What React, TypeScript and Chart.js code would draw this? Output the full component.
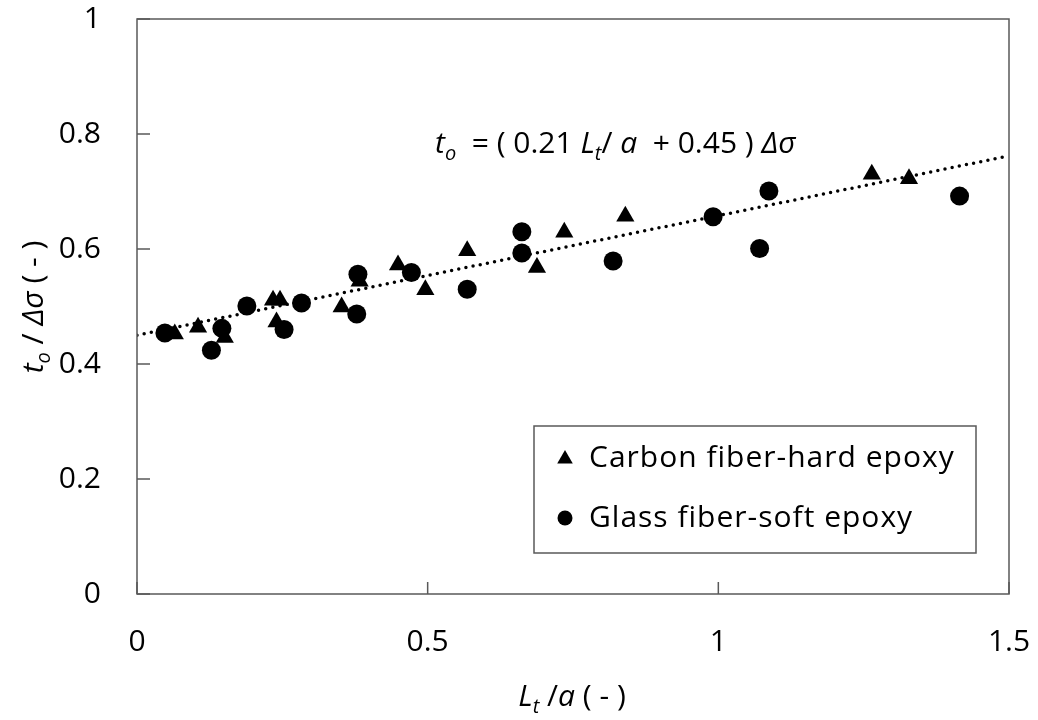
import React, { useEffect, useRef } from "react";
import { Chart, registerables } from "chart.js";

Chart.register(...registerables);

// ---- data ----
const carbonX = [0.065, 0.105, 0.151, 0.234, 0.246, 0.24, 0.352, 0.383, 0.449, 0.496, 0.568, 0.688, 0.735, 0.84, 1.264, 1.328];
const carbonY = [0.452, 0.464, 0.446, 0.511, 0.511, 0.473, 0.499, 0.544, 0.572, 0.529, 0.597, 0.568, 0.629, 0.657, 0.73, 0.722];

const glassX = [0.048, 0.128, 0.146, 0.189, 0.253, 0.283, 0.378, 0.38, 0.472, 0.568, 0.662, 0.662, 0.819, 0.991, 1.071, 1.087, 1.415];
const glassY = [0.454, 0.424, 0.462, 0.501, 0.46, 0.506, 0.487, 0.556, 0.559, 0.53, 0.63, 0.593, 0.579, 0.656, 0.601, 0.701, 0.692];

const fitX = [0, 1.5];
const fitY = [0.45, 0.762];

const xTicks = [0, 0.5, 1, 1.5];
const xTickLabels = ["0", "0.5", "1", "1.5"];
const yTicks = [0, 0.2, 0.4, 0.6, 0.8, 1];
const yTickLabels = ["0", "0.2", "0.4", "0.6", "0.8", "1"];

// zero-width non-joiner keeps "f" and "i" as separate glyphs, as in the reference
const seriesNames = ["Carbon f\u200Ciber-hard epoxy", "Glass f\u200Ciber-soft epoxy"];

const FONT = "'Open Sans', sans-serif";
const FS = 30;

type Part = { t: string; it?: boolean; sub?: boolean };

function partFont(p: Part, size: number) {
  const s = p.sub ? Math.round(size * 0.66) : size;
  return `${p.it ? "italic " : ""}${s}px ${FONT}`;
}
function richWidth(ctx: CanvasRenderingContext2D, parts: Part[], size: number) {
  let w = 0;
  for (const p of parts) {
    ctx.font = partFont(p, size);
    w += ctx.measureText(p.t).width;
  }
  return w;
}
function drawRich(ctx: CanvasRenderingContext2D, parts: Part[], x: number, y: number, size: number) {
  let cx = x;
  for (const p of parts) {
    ctx.font = partFont(p, size);
    ctx.fillText(p.t, cx, y + (p.sub ? size * 0.24 : 0));
    cx += ctx.measureText(p.t).width;
  }
}

const eqParts: Part[] = [
  { t: "t", it: true },
  { t: "o", it: true, sub: true },
  { t: "  = ( 0.21 " },
  { t: "L", it: true },
  { t: "t", it: true, sub: true },
  { t: "/ " },
  { t: "a", it: true },
  { t: "  + 0.45 ) " },
  { t: "Δσ", it: true },
];
const xTitleParts: Part[] = [
  { t: "L", it: true },
  { t: "t", it: true, sub: true },
  { t: " /" },
  { t: "a", it: true },
  { t: " ( - )" },
];
const yTitleParts: Part[] = [
  { t: "t", it: true },
  { t: "o", it: true, sub: true },
  { t: " / " },
  { t: "Δσ", it: true },
  { t: " ( - )" },
];

const decor = {
  id: "decor",
  afterDraw(chart: any) {
    const { ctx, chartArea: a, scales } = chart;
    const xs = scales.x;
    const ys = scales.y;
    ctx.save();
    // frame
    ctx.strokeStyle = "#595959";
    ctx.lineWidth = 1.5;
    ctx.strokeRect(a.left, a.top, a.right - a.left, a.bottom - a.top);
    // inward tick marks
    ctx.beginPath();
    yTicks.forEach((v) => {
      const py = ys.getPixelForValue(v);
      ctx.moveTo(a.left, py);
      ctx.lineTo(a.left + 13, py);
    });
    xTicks.forEach((v) => {
      const px = xs.getPixelForValue(v);
      ctx.moveTo(px, a.bottom);
      ctx.lineTo(px, a.bottom - 12);
    });
    ctx.stroke();

    ctx.fillStyle = "#000";
    ctx.textBaseline = "alphabetic";
    ctx.textAlign = "left";

    // equation
    drawRich(ctx, eqParts, 435, 153, FS);

    // x title
    const xw = richWidth(ctx, xTitleParts, FS);
    drawRich(ctx, xTitleParts, 572 - xw / 2, 706, FS);

    // y title
    const yw = richWidth(ctx, yTitleParts, FS);
    ctx.save();
    ctx.translate(43, 307);
    ctx.rotate(-Math.PI / 2);
    drawRich(ctx, yTitleParts, -yw / 2, 0, FS);
    ctx.restore();

    // legend
    const lx = 534, ly = 426, lw = 442, lh = 127;
    ctx.fillStyle = "#fff";
    ctx.fillRect(lx, ly, lw, lh);
    ctx.strokeStyle = "#595959";
    ctx.lineWidth = 1.5;
    ctx.strokeRect(lx, ly, lw, lh);
    ctx.fillStyle = "#000";
    // triangle marker
    const tx = 565, ty = 459, tr = 9;
    ctx.beginPath();
    ctx.moveTo(tx, ty - tr);
    ctx.lineTo(tx + tr * 0.866, ty + tr * 0.5);
    ctx.lineTo(tx - tr * 0.866, ty + tr * 0.5);
    ctx.closePath();
    ctx.fill();
    // circle marker
    ctx.beginPath();
    ctx.arc(565, 518, 7.5, 0, Math.PI * 2);
    ctx.fill();
    ctx.font = `${FS}px ${FONT}`;
    ctx.textBaseline = "middle";
    (ctx as any).letterSpacing = "1px";
    ctx.fillText(seriesNames[0], 589, 458);
    ctx.fillText(seriesNames[1], 589, 518);
    (ctx as any).letterSpacing = "0px";
    ctx.restore();
  },
};

export default function App() {
  const ref = useRef<HTMLCanvasElement | null>(null);
  useEffect(() => {
    document.body.style.margin = "0";
    document.body.style.overflow = "hidden";
    const canvas = ref.current!;
    const chart = new Chart(canvas, {
      type: "scatter",
      data: {
        datasets: [
          {
            label: seriesNames[0],
            data: carbonX.map((x, i) => ({ x, y: carbonY[i] })),
            pointStyle: "triangle",
            pointRadius: 10.5,
            backgroundColor: "#000",
            borderColor: "#000",
            borderWidth: 0,
            order: 1,
          },
          {
            label: seriesNames[1],
            data: glassX.map((x, i) => ({ x, y: glassY[i] })),
            pointStyle: "circle",
            pointRadius: 9.5,
            backgroundColor: "#000",
            borderColor: "#000",
            borderWidth: 0,
            order: 1,
          },
          {
            type: "line",
            label: "fit",
            data: fitX.map((x, i) => ({ x, y: fitY[i] })),
            showLine: true,
            borderColor: "#000",
            borderWidth: 3.5,
            borderDash: [0, 7.3],
            borderCapStyle: "round",
            pointRadius: 0,
            fill: false,
            order: 5,
          } as any,
        ],
      },
      options: {
        animation: false,
        responsive: false,
        devicePixelRatio: 1,
        layout: { padding: { top: 19, right: 29, left: 0, bottom: 0 } },
        plugins: { legend: { display: false }, tooltip: { enabled: false } },
        scales: {
          x: {
            type: "linear",
            min: 0,
            max: 1.5,
            afterBuildTicks: (s: any) => {
              s.ticks = xTicks.map((v) => ({ value: v }));
            },
            afterFit: (s: any) => {
              s.height = 126;
              s.paddingLeft = 0;
              s.paddingRight = 0;
              s.paddingTop = 0;
              s.paddingBottom = 0;
            },
            ticks: {
              callback: (v: any) => xTickLabels[xTicks.indexOf(Number(v))] ?? "",
              font: { family: FONT, size: FS },
              color: "#000",
              padding: 30,
              maxRotation: 0,
            },
            grid: { display: false, drawTicks: false },
            border: { display: false },
          },
          y: {
            type: "linear",
            min: 0,
            max: 1,
            afterBuildTicks: (s: any) => {
              s.ticks = yTicks.map((v) => ({ value: v }));
            },
            afterFit: (s: any) => {
              s.width = 137;
              s.paddingLeft = 0;
              s.paddingRight = 0;
              s.paddingTop = 0;
              s.paddingBottom = 0;
            },
            ticks: {
              callback: (v: any) => yTickLabels[yTicks.indexOf(Number(v))] ?? "",
              font: { family: FONT, size: FS },
              color: "#000",
              padding: 36,
            },
            grid: { display: false, drawTicks: false },
            border: { display: false },
          },
        },
      },
      plugins: [decor],
    });
    return () => chart.destroy();
  }, []);
  return <canvas ref={ref} width={1038} height={720} style={{ display: "block", width: 1038, height: 720 }} />;
}
